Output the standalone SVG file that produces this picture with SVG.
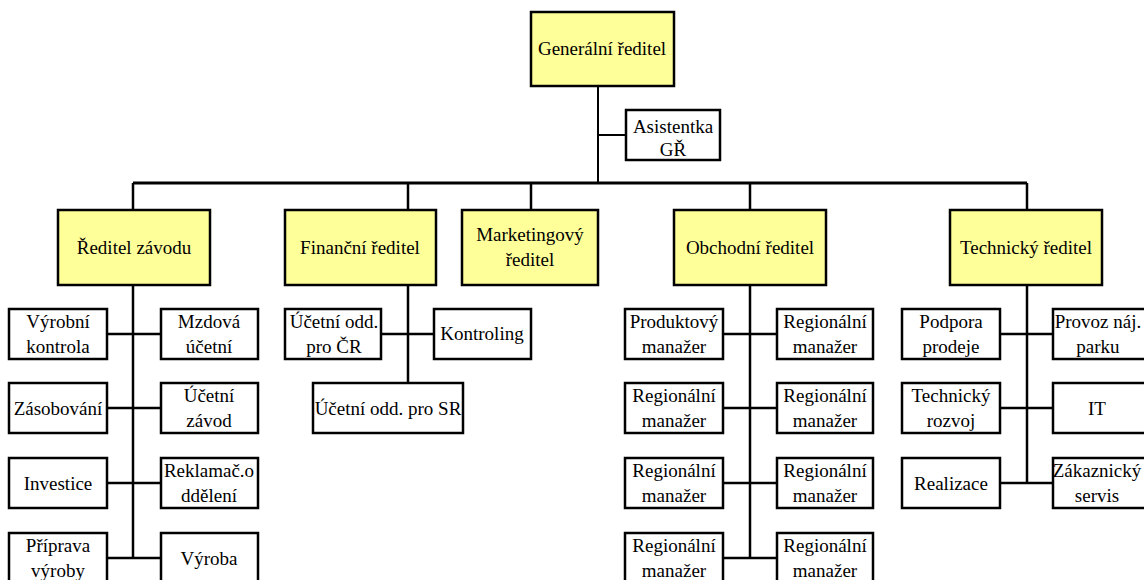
<svg xmlns="http://www.w3.org/2000/svg" width="1144" height="580" viewBox="0 0 1144 580">
<rect width="1144" height="580" fill="#ffffff"/>
<g id="connectors" stroke="#000000" stroke-width="2.5" fill="none">
<path d="M598,86V183M598,135H626" stroke-width="2"/>
<path d="M133,183H1027" stroke-width="3"/>
<path d="M133,183V210M408,183V210M531,183V210M750,183V210M1027,183V210"/>
<path d="M133,285V558M107,334H161M107,408H161M107,483H161M107,558H161"/>
<path d="M408,285V383M381,334H434"/>
<path d="M750,285V558M723,334H777M723,408H777M723,483H777M723,558H777"/>
<path d="M1027,285V483M1000,334H1053M1000,408H1053M1000,483H1053"/>
</g>
<g id="n-gr"><rect x="531" y="12" width="143" height="74" fill="#ffff99" stroke="#000000" stroke-width="2.5"/><text font-family="Liberation Serif" font-size="19" text-anchor="middle" x="602" y="55">Generální ředitel</text></g>
<g id="n-asist"><rect x="626" y="110" width="94" height="50" fill="#ffffff" stroke="#000000" stroke-width="2.5"/><text font-family="Liberation Serif" font-size="19" text-anchor="middle" x="673" y="133">Asistentka</text><text font-family="Liberation Serif" font-size="19" text-anchor="middle" x="673" y="156">GŘ</text></g>
<g id="n-zavod"><rect x="58" y="210" width="152" height="75" fill="#ffff99" stroke="#000000" stroke-width="2.5"/><text font-family="Liberation Serif" font-size="19" text-anchor="middle" x="134" y="254">Ředitel závodu</text></g>
<g id="n-fin"><rect x="285" y="210" width="151" height="75" fill="#ffff99" stroke="#000000" stroke-width="2.5"/><text font-family="Liberation Serif" font-size="19" text-anchor="middle" x="360" y="254">Finanční ředitel</text></g>
<g id="n-mkt"><rect x="462" y="210" width="136" height="75" fill="#ffff99" stroke="#000000" stroke-width="2.5"/><text font-family="Liberation Serif" font-size="19" text-anchor="middle" x="530" y="241">Marketingový</text><text font-family="Liberation Serif" font-size="19" text-anchor="middle" x="530" y="266">ředitel</text></g>
<g id="n-obch"><rect x="674" y="210" width="152" height="75" fill="#ffff99" stroke="#000000" stroke-width="2.5"/><text font-family="Liberation Serif" font-size="19" text-anchor="middle" x="750" y="254">Obchodní ředitel</text></g>
<g id="n-tech"><rect x="950" y="210" width="152" height="75" fill="#ffff99" stroke="#000000" stroke-width="2.5"/><text font-family="Liberation Serif" font-size="19" text-anchor="middle" x="1026" y="254">Technický ředitel</text></g>

<g id="n-vyrkontrola"><rect x="9" y="309" width="98" height="50" fill="#ffffff" stroke="#000000" stroke-width="2.5"/><text font-family="Liberation Serif" font-size="19" text-anchor="middle" x="58" y="328">Výrobní</text><text font-family="Liberation Serif" font-size="19" text-anchor="middle" x="58" y="353">kontrola</text></g>
<g id="n-zasob"><rect x="9" y="383" width="98" height="50" fill="#ffffff" stroke="#000000" stroke-width="2.5"/><text font-family="Liberation Serif" font-size="19" text-anchor="middle" x="58" y="415">Zásobování</text></g>
<g id="n-invest"><rect x="9" y="458" width="98" height="50" fill="#ffffff" stroke="#000000" stroke-width="2.5"/><text font-family="Liberation Serif" font-size="19" text-anchor="middle" x="58" y="490">Investice</text></g>
<g id="n-priprava"><rect x="9" y="533" width="98" height="50" fill="#ffffff" stroke="#000000" stroke-width="2.5"/><text font-family="Liberation Serif" font-size="19" text-anchor="middle" x="58" y="552">Příprava</text><text font-family="Liberation Serif" font-size="19" text-anchor="middle" x="58" y="577">výroby</text></g>
<g id="n-mzdova"><rect x="161" y="309" width="97" height="50" fill="#ffffff" stroke="#000000" stroke-width="2.5"/><text font-family="Liberation Serif" font-size="19" text-anchor="middle" x="209" y="328">Mzdová</text><text font-family="Liberation Serif" font-size="19" text-anchor="middle" x="209" y="353">účetní</text></g>
<g id="n-ucetnizavod"><rect x="161" y="383" width="97" height="50" fill="#ffffff" stroke="#000000" stroke-width="2.5"/><text font-family="Liberation Serif" font-size="19" text-anchor="middle" x="209" y="402">Účetní</text><text font-family="Liberation Serif" font-size="19" text-anchor="middle" x="209" y="427">závod</text></g>
<g id="n-reklamac"><rect x="161" y="458" width="97" height="50" fill="#ffffff" stroke="#000000" stroke-width="2.5"/><text font-family="Liberation Serif" font-size="19" text-anchor="middle" x="209" y="477">Reklamač.o</text><text font-family="Liberation Serif" font-size="19" text-anchor="middle" x="209" y="502">ddělení</text></g>
<g id="n-vyroba"><rect x="161" y="533" width="97" height="50" fill="#ffffff" stroke="#000000" stroke-width="2.5"/><text font-family="Liberation Serif" font-size="19" text-anchor="middle" x="209" y="565">Výroba</text></g>

<g id="n-ucetcr"><rect x="285" y="309" width="96" height="50" fill="#ffffff" stroke="#000000" stroke-width="2.5"/><text font-family="Liberation Serif" font-size="19" text-anchor="middle" x="334" y="328">Účetní odd.</text><text font-family="Liberation Serif" font-size="19" text-anchor="middle" x="334" y="353">pro ČR</text></g>
<g id="n-kontroling"><rect x="434" y="309" width="97" height="50" fill="#ffffff" stroke="#000000" stroke-width="2.5"/><text font-family="Liberation Serif" font-size="19" text-anchor="middle" x="482" y="340">Kontroling</text></g>
<g id="n-ucetsr"><rect x="313" y="383" width="150" height="50" fill="#ffffff" stroke="#000000" stroke-width="2.5"/><text font-family="Liberation Serif" font-size="19" text-anchor="middle" x="388" y="415">Účetní odd. pro SR</text></g>

<g id="n-produkt"><rect x="625" y="309" width="98" height="50" fill="#ffffff" stroke="#000000" stroke-width="2.5"/><text font-family="Liberation Serif" font-size="19" text-anchor="middle" x="674" y="328">Produktový</text><text font-family="Liberation Serif" font-size="19" text-anchor="middle" x="674" y="353">manažer</text></g>
<g id="n-reg1"><rect x="777" y="309" width="96" height="50" fill="#ffffff" stroke="#000000" stroke-width="2.5"/><text font-family="Liberation Serif" font-size="19" text-anchor="middle" x="825" y="328">Regionální</text><text font-family="Liberation Serif" font-size="19" text-anchor="middle" x="825" y="353">manažer</text></g>
<g id="n-reg2"><rect x="625" y="383" width="98" height="50" fill="#ffffff" stroke="#000000" stroke-width="2.5"/><text font-family="Liberation Serif" font-size="19" text-anchor="middle" x="674" y="402">Regionální</text><text font-family="Liberation Serif" font-size="19" text-anchor="middle" x="674" y="427">manažer</text></g>
<g id="n-reg3"><rect x="777" y="383" width="96" height="50" fill="#ffffff" stroke="#000000" stroke-width="2.5"/><text font-family="Liberation Serif" font-size="19" text-anchor="middle" x="825" y="402">Regionální</text><text font-family="Liberation Serif" font-size="19" text-anchor="middle" x="825" y="427">manažer</text></g>
<g id="n-reg4"><rect x="625" y="458" width="98" height="50" fill="#ffffff" stroke="#000000" stroke-width="2.5"/><text font-family="Liberation Serif" font-size="19" text-anchor="middle" x="674" y="477">Regionální</text><text font-family="Liberation Serif" font-size="19" text-anchor="middle" x="674" y="502">manažer</text></g>
<g id="n-reg5"><rect x="777" y="458" width="96" height="50" fill="#ffffff" stroke="#000000" stroke-width="2.5"/><text font-family="Liberation Serif" font-size="19" text-anchor="middle" x="825" y="477">Regionální</text><text font-family="Liberation Serif" font-size="19" text-anchor="middle" x="825" y="502">manažer</text></g>
<g id="n-reg6"><rect x="625" y="533" width="98" height="50" fill="#ffffff" stroke="#000000" stroke-width="2.5"/><text font-family="Liberation Serif" font-size="19" text-anchor="middle" x="674" y="552">Regionální</text><text font-family="Liberation Serif" font-size="19" text-anchor="middle" x="674" y="577">manažer</text></g>
<g id="n-reg7"><rect x="777" y="533" width="96" height="50" fill="#ffffff" stroke="#000000" stroke-width="2.5"/><text font-family="Liberation Serif" font-size="19" text-anchor="middle" x="825" y="552">Regionální</text><text font-family="Liberation Serif" font-size="19" text-anchor="middle" x="825" y="577">manažer</text></g>

<g id="n-podpora"><rect x="902" y="309" width="98" height="50" fill="#ffffff" stroke="#000000" stroke-width="2.5"/><text font-family="Liberation Serif" font-size="19" text-anchor="middle" x="951" y="328">Podpora</text><text font-family="Liberation Serif" font-size="19" text-anchor="middle" x="951" y="353">prodeje</text></g>
<g id="n-techrozvoj"><rect x="902" y="383" width="98" height="50" fill="#ffffff" stroke="#000000" stroke-width="2.5"/><text font-family="Liberation Serif" font-size="19" text-anchor="middle" x="951" y="402">Technický</text><text font-family="Liberation Serif" font-size="19" text-anchor="middle" x="951" y="427">rozvoj</text></g>
<g id="n-realizace"><rect x="902" y="458" width="98" height="50" fill="#ffffff" stroke="#000000" stroke-width="2.5"/><text font-family="Liberation Serif" font-size="19" text-anchor="middle" x="951" y="490">Realizace</text></g>
<g id="n-provoz"><rect x="1053" y="309" width="97" height="50" fill="#ffffff" stroke="#000000" stroke-width="2.5"/><text font-family="Liberation Serif" font-size="19" text-anchor="middle" x="1098" y="328">Provoz náj.</text><text font-family="Liberation Serif" font-size="19" text-anchor="middle" x="1098" y="353">parku</text></g>
<g id="n-it"><rect x="1053" y="383" width="97" height="50" fill="#ffffff" stroke="#000000" stroke-width="2.5"/><text font-family="Liberation Serif" font-size="19" text-anchor="middle" x="1097" y="415">IT</text></g>
<g id="n-zakaznicky"><rect x="1053" y="458" width="97" height="50" fill="#ffffff" stroke="#000000" stroke-width="2.5"/><text font-family="Liberation Serif" font-size="19" text-anchor="middle" x="1097" y="477">Zákaznický</text><text font-family="Liberation Serif" font-size="19" text-anchor="middle" x="1097" y="502">servis</text></g>
</svg>
